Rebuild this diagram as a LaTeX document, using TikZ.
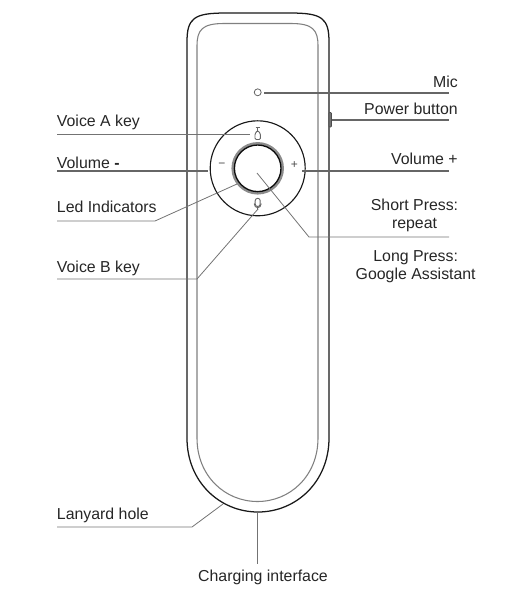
\documentclass[tikz,border=0pt]{standalone}
\usepackage{fontspec}
\setmainfont{Liberation Sans}
\tikzset{
  lbl/.style={inner sep=0pt,font=\fontsize{11.9pt}{13.9pt}\selectfont,text=black!85,align=center},
  lblW/.style={lbl,anchor=base west},
  lblE/.style={lbl,anchor=base east},
  body/.style={draw=black!90,line width=0.95pt},
  innerline/.style={draw=black!50,line width=0.8pt},
  thick lead/.style={draw=black!60,line width=1.1pt},
  thin lead/.style={draw=black!55,line width=0.6pt},
  icon/.style={draw=black!60,line width=0.7pt},
  keysign/.style={inner sep=0pt,font=\fontsize{9pt}{10pt}\selectfont,text=black!70},
}
\begin{document}
\begin{tikzpicture}[x=0.75pt,y=-0.75pt]
\useasboundingbox (0,0) rectangle (517,593);
% body
\draw[body] (187,42) .. controls (187,18) and (194,13) .. (226,13) -- (290,13) .. controls (322,13) and (329,18) .. (329,42)
  -- (329,438) .. controls (329,482) and (296,512) .. (258,512) .. controls (220,512) and (187,482) .. (187,438) -- cycle;
\draw[innerline] (197,46) .. controls (197,30) and (202,23.5) .. (224,23.5) -- (291,23.5) .. controls (313,23.5) and (318,30) .. (318,46)
  -- (318,438) .. controls (318,476) and (290,501.5) .. (257.5,501.5) .. controls (225,501.5) and (197,476) .. (197,438) -- cycle;
% power button
\draw[draw=black!70,fill=black!55,line width=0.4pt,rounded corners=0.6pt] (329,112.5) rectangle (331.5,127);
\coordinate (pw) at (331.5,120);
% keypad
\draw[draw=black!90,line width=0.85pt] (257.7,168.3) circle (47.5);
\draw[draw=black!45,line width=1.9pt] (257.7,168.3) circle (25);
\draw[draw=black!95,line width=1pt] (257.7,168.3) circle (23.3);
\node[circle,draw=black!60,line width=0.6pt,minimum size=5.2pt,inner sep=0pt] (mic) at (257.7,92.3) {};
\node[keysign] (minus) at (221.8,165) {−};
\node[keysign] (plus) at (294.3,165) {+};
% voice A icon
\draw[icon] (255.5,127.3) -- (260,127.3) (257.7,127.3) -- (257.7,130.5);
\draw[icon,rounded corners=0.9pt] (255,139.5) -- (255,133.5) -- (257.7,130.5) -- (260.4,133.5) -- (260.4,139.5) -- cycle;
% voice B icon
\draw[icon,rounded corners=1.8pt] (255.2,198.3) rectangle (260.2,206.5);
\draw[icon] (254.2,203.5) .. controls (254.2,209) and (261.2,209) .. (261.2,203.5) (257.7,207.5) -- (257.7,210);
% labels
\node[lblW] (va) at (56.7,126.7) {Voice A key};
\node[lblW] (vm) at (56.7,168) {Volume {\bfseries -}};
\node[lblW] (led) at (56.7,212.7) {Led Indicators};
\node[lblW] (vb) at (56.7,272) {Voice B key};
\node[lblW] (lh) at (56.7,519) {Lanyard hole};
\node[lblE] (mc) at (458,87) {Mic};
\node[lblE] (pb) at (458,114) {Power button};
\node[lblE] (vp) at (458,164) {Volume +};
\node[lbl] (sp) at (414.5,215.5) {Short Press:\\repeat};
\node[lbl] (lp) at (415.7,266.5) {Long Press:\\Google Assistant};
\node[lbl,anchor=base] (ci) at (263,581) {Charging interface};
% anchors
\coordinate (vaL) at (57,134); \coordinate (vaT) at (250,134);
\coordinate (vmL) at (57,171); \coordinate (vmT) at (208,171);
\coordinate (ledL) at (57,221); \coordinate (ledK) at (155,221); \coordinate (ledT) at (237,184);
\coordinate (vbL) at (57,279); \coordinate (vbK) at (197,279); \coordinate (vbT) at (258,209);
\coordinate (lhL) at (57,527); \coordinate (lhK) at (192,527); \coordinate (lhT) at (223,504);
\coordinate (micL) at (264,93); \coordinate (micR) at (449,93); \coordinate (pwR) at (449,120);
\coordinate (vpT) at (302,171); \coordinate (vpR) at (449,171);
\coordinate (cT) at (257,173); \coordinate (cK) at (309,237); \coordinate (cR) at (449,237);
\coordinate (ciT) at (257,512.5); \coordinate (ciB) at (257,564);
% leaders
\draw[thin lead] (vaL) -- (vaT);
\draw[thick lead] (vmL) -- (vmT);
\draw[thin lead] (ledL) -- (ledK) -- (ledT);
\draw[thin lead] (vbL) -- (vbK) -- (vbT);
\draw[thin lead] (lhL) -- (lhK) -- (lhT);
\draw[thick lead] (micL) -- (micR);
\draw[thick lead] (pw) -- (pwR);
\draw[thick lead] (vpT) -- (vpR);
\draw[thin lead] (cT) -- (cK) -- (cR);
\draw[thin lead] (ciT) -- (ciB);
\end{tikzpicture}
\end{document}
